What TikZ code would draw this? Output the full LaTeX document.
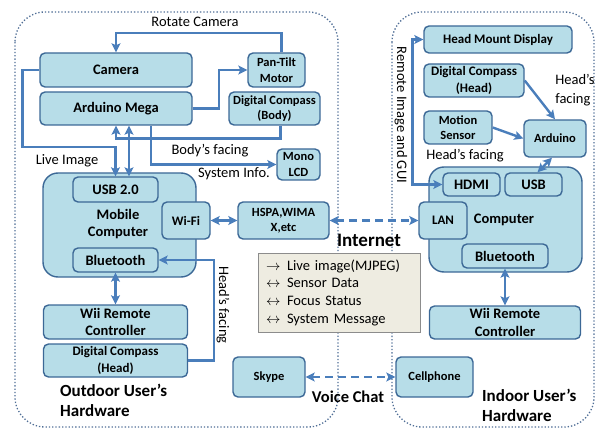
\documentclass[tikz,border=0pt]{standalone}
\usepackage{fontspec}
\setmainfont{Carlito}
\usetikzlibrary{arrows.meta}

\definecolor{boxfill}{RGB}{183,221,232}
\definecolor{boxline}{RGB}{60,104,150}
\definecolor{linkblue}{RGB}{74,126,187}
\definecolor{zoneline}{RGB}{80,110,150}
\definecolor{notefill}{RGB}{238,236,225}
\definecolor{notegray}{RGB}{140,140,140}

\begin{document}
\begin{tikzpicture}[x=1pt,y=-1pt,
    blk/.style={draw=boxline, fill=boxfill, line width=1.4pt, rounded corners=5pt, align=center, inner sep=0pt, font=\fontsize{14.5}{17.5}\selectfont\bfseries},
    mblk/.style={blk, font=\fontsize{13}{16.5}\selectfont\bfseries},
    sblk/.style={blk, font=\fontsize{12.5}{15.5}\selectfont\bfseries},
    hostblk/.style={blk, rounded corners=15pt},
    lbl/.style={font=\fontsize{14.5}{19}\selectfont, inner sep=0pt},
    title/.style={font=\fontsize{17}{20}\selectfont\bfseries, inner sep=0pt, align=left},
    wire/.style={draw=linkblue, line width=2.4pt, -{Stealth[length=9pt,width=9pt,inset=2pt]}},
    wire2/.style={wire, {Stealth[length=9pt,width=9pt,inset=2pt]}-{Stealth[length=9pt,width=9pt,inset=2pt]}},
    net/.style={wire2, dash pattern=on 8pt off 5pt},
    zone/.style={draw=zoneline, line width=1.3pt, dotted, rounded corners=30pt}]
        \useasboundingbox (0,0) rectangle (596,430);

        % Draw the two hardware zones
        \draw[zone] (15,12) rectangle (338,427);
        \draw[zone] (392,12) rectangle (594,427);

        % Outdoor blocks
        \node[blk, minimum width=152pt, minimum height=34pt] (cam) at (116,70) {Camera};
        \node[blk, minimum width=152pt, minimum height=33pt] (mega) at (116,108.5) {Arduino Mega};
        \node[sblk, minimum width=57pt, minimum height=34pt] (pantilt) at (276.5,70) {Pan-Tilt\\Motor};
        \node[sblk, minimum width=91pt, minimum height=33pt] (dcb) at (274.5,108.5) {Digital Compass\\(Body)};
        \node[sblk, minimum width=43pt, minimum height=31pt] (lcd) at (298.5,164.5) {Mono\\LCD};
        \node[hostblk, minimum width=153pt, minimum height=104pt] (mobile) at (119.5,225) {};
        \node[font=\fontsize{14.5}{17}\selectfont\bfseries, align=center] (mobtxt) at (118,224) {Mobile\\Computer};
        \node[blk, minimum width=85pt, minimum height=25pt] (usb2) at (115.5,189.5) {USB 2.0};
        \node[blk, minimum width=85pt, minimum height=24pt] (bto) at (115.5,260) {Bluetooth};
        \node[mblk, minimum width=48pt, minimum height=37pt] (wifi) at (186,220.5) {Wi-Fi};
        \node[sblk, minimum width=91pt, minimum height=37pt] (hspa) at (283.5,220.5) {HSPA,WIMA\\X,etc};
        \node[blk, minimum width=144pt, minimum height=34pt] (wiio) at (115.5,322) {Wii Remote\\Controller};
        \node[mblk, minimum width=144pt, minimum height=33pt] (dcho) at (115.5,360.5) {Digital Compass\\(Head)};
        \node[sblk, minimum width=72pt, minimum height=40pt] (skype) at (269,377) {Skype};

        % Indoor blocks
        \node[sblk, minimum width=77pt, minimum height=40pt] (cell) at (434.5,377) {Cellphone};
        \node[mblk, minimum width=148pt, minimum height=27pt] (hmd) at (498,39.5) {Head Mount Display};
        \node[mblk, minimum width=100pt, minimum height=33pt] (dchi) at (474,80.5) {Digital Compass\\(Head)};
        \node[sblk, minimum width=68pt, minimum height=33pt] (motion) at (458,127.5) {Motion\\Sensor};
        \node[sblk, minimum width=62pt, minimum height=37pt] (ardi) at (555,138.5) {Arduino};
        \node[hostblk, minimum width=153pt, minimum height=105pt] (comp) at (505.5,219.5) {};
        \node[font=\fontsize{14.5}{17}\selectfont\bfseries] (comptxt) at (504,220) {Computer};
        \node[blk, minimum width=57pt, minimum height=23pt] (hdmi) at (471.5,184.5) {HDMI};
        \node[blk, minimum width=57pt, minimum height=23pt] (usb) at (533.5,184.5) {USB};
        \node[mblk, minimum width=48pt, minimum height=37pt] (lan) at (443,220.5) {LAN};
        \node[blk, minimum width=86pt, minimum height=24pt] (bti) at (505,256) {Bluetooth};
        \node[blk, minimum width=151pt, minimum height=33pt] (wiii) at (505,322.5) {Wii Remote\\Controller};

        % Legend box
        \node[draw=notegray, fill=notefill, line width=0.8pt, minimum width=162pt, minimum height=79pt, text width=146pt, align=left, inner xsep=8pt, font=\fontsize{14.5}{17.7}\selectfont] (legend) at (339,292.5)
            {\makebox[21pt][l]{$\rightarrow$}Live image(MJPEG)\\
             \makebox[21pt][l]{$\leftrightarrow$}Sensor Data\\
             \makebox[21pt][l]{$\leftrightarrow$}Focus Status\\
             \makebox[21pt][l]{$\leftrightarrow$}System Message};

        % Labels
        \node[lbl] (rotlbl) at (195,22) {Rotate Camera};
        \node[lbl] (bodylbl) at (210,151) {Body’s facing};
        \node[lbl] (livelbl) at (67,161) {Live Image};
        \node[lbl] (syslbl) at (234,174) {System Info.};
        \node[lbl, rotate=-90] (headlbl) at (223,305) {Head’s facing};
        \node[lbl, rotate=-90] (guilbl) at (401,115) {Remote Image and GUI};
        \node[lbl, align=left] (headlbl2) at (575,90) {Head’s\\facing};
        \node[lbl] (headlbl3) at (465,156) {Head’s facing};
        \node[title, font=\fontsize{19}{21}\selectfont\bfseries] (inet) at (369,240) {Internet};
        \node[title, font=\fontsize{16.5}{20}\selectfont\bfseries] (voice) at (348,397) {Voice Chat};
        \node[title, anchor=west] (outlbl) at (60,400.5) {Outdoor User’s\\Hardware};
        \node[title, anchor=west] (inlbl) at (482,405) {Indoor User’s\\Hardware};

        % Outdoor connections
        \draw[wire] ([xshift=5pt]pantilt.north) -- ++(0,-19) -| (cam.north);
        \draw[wire] (mega.east) -- ++(26,0) |- (pantilt.west);
        \draw[wire] ([xshift=6pt]dcb.south) -- ++(0,13) -| (mega.south);
        \draw[wire] (cam.west) -- ++(-17,0) -- ++(0,77) -| (usb2.north);
        \draw[wire2] ([xshift=13pt]mega.south) -- ([xshift=13pt]mega.south |- usb2.north);
        \draw[wire] ([xshift=35pt]mega.south) |- (lcd.west);
        \draw[wire2] (wifi.east) -- (hspa.west);
        \draw[wire] (dcho.east) -- ++(26,0) |- (bto.east);
        \draw[wire2] (bto.south) -- (wiio.north);

        % Links over the network
        \draw[net] (hspa.east) -- (lan.west);
        \draw[net] (skype.east) -- (cell.west);

        % Indoor connections
        \draw[wire2] (hdmi.west) -- ++(-30,0) |- (hmd.west);
        \draw[wire] (dchi.east) -- (ardi.north);
        \draw[wire] (motion.east) -- (ardi.west);
        \draw[wire2] ([xshift=-3pt]ardi.south) -- ([xshift=4pt]usb.north);
        \draw[wire2] (bti.south) -- (wiii.north);
\end{tikzpicture}
\end{document}
